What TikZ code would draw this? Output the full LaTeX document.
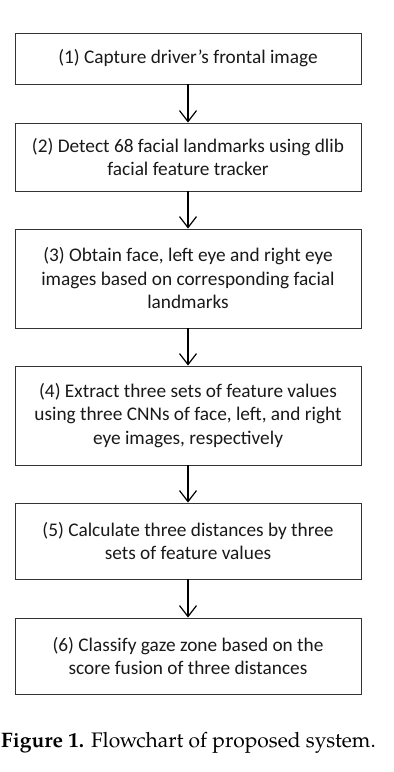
\documentclass[tikz,border=0pt]{standalone}
\usepackage{fontspec}
\setmainfont{Carlito}
\newfontfamily\capfont{texgyrepagella}[Extension=.otf, UprightFont=*-regular, BoldFont=*-bold]
\usetikzlibrary{arrows.meta}
\begin{document}
\begin{tikzpicture}[x=1pt, y=-1pt,
  stepbox/.style={draw=black!80, line width=0.9pt, minimum width=346pt,
    align=center, font=\fontsize{19.3}{23.5}\selectfont, text=black!90, inner sep=0pt},
  flow/.style={line width=1.2pt, -{Straight Barb[length=11pt, width=17pt, line width=1.2pt]}}]
\useasboundingbox (0,0) rectangle (394,772);

\node[stepbox, minimum height=51pt] (s1) at (188,58.5) {(1) Capture driver's frontal image};
\node[stepbox, minimum height=68pt] (s2) at (188,157) {(2) Detect 68 facial landmarks using dlib\\facial feature tracker};
\node[stepbox, minimum height=99pt] (s3) at (188,278.5) {(3) Obtain face, left eye and right eye\\images based on corresponding facial\\landmarks};
\node[stepbox, minimum height=99pt] (s4) at (188,415.5) {(4) Extract three sets of feature values\\using three CNNs of face, left, and right\\eye images, respectively};
\node[stepbox, minimum height=76pt] (s5) at (188,541) {(5) Calculate three distances by three\\sets of feature values};
\node[stepbox, minimum height=76pt] (s6) at (188,656) {(6) Classify gaze zone based on the\\score fusion of three distances};

\draw[flow] (s1) -- (s2);
\draw[flow] (s2) -- (s3);
\draw[flow] (s3) -- (s4);
\draw[flow] (s4) -- (s5);
\draw[flow] (s5) -- (s6);

\node[anchor=base west, inner sep=0pt, font=\capfont\fontsize{21}{25}\selectfont] (cap) at (1,747)
  {\textbf{Figure 1.} Flowchart of proposed system.};
\end{tikzpicture}
\end{document}
